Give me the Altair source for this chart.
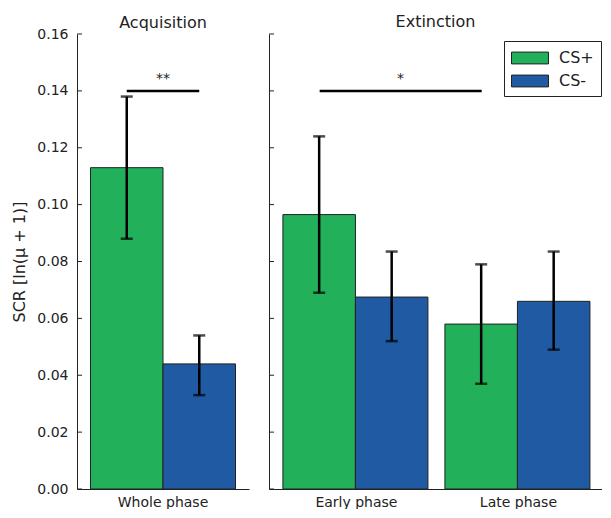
import altair as alt
import pandas as pd

# ---- data ----
conditions = ["CS+", "CS-"]
acq_phases = ["Whole phase"]
ext_phases = ["Early phase", "Late phase"]

acq_mean = [0.113, 0.044]
acq_lo = [0.088, 0.033]
acq_hi = [0.138, 0.054]

ext_mean = [0.0965, 0.0675, 0.058, 0.066]
ext_lo = [0.069, 0.052, 0.037, 0.049]
ext_hi = [0.124, 0.0835, 0.079, 0.0835]

y_ticks = [0.0, 0.02, 0.04, 0.06, 0.08, 0.10, 0.12, 0.14, 0.16]
sig_level = 0.14
acq_sig_label = "**"
ext_sig_label = "*"

GREEN = "#22b05a"
BLUE = "#1f5aa2"
FONT = "DejaVu Sans"

acq_df = pd.DataFrame({
    "phase": [acq_phases[0]] * 2,
    "cond": conditions,
    "mean": acq_mean, "lo": acq_lo, "hi": acq_hi,
})
ext_df = pd.DataFrame({
    "phase": [ext_phases[0]] * 2 + [ext_phases[1]] * 2,
    "cond": conditions * 2,
    "mean": ext_mean, "lo": ext_lo, "hi": ext_hi,
})
tick_df = pd.DataFrame({"v": y_ticks})

H = 455
yscale = alt.Scale(domain=[0, 0.16], nice=False, zero=True)
color_scale = alt.Scale(domain=conditions, range=[GREEN, BLUE])
off_scale = alt.Scale(paddingInner=0, paddingOuter=0)


def panel(df, phases, width, pad_inner, pad_outer, align, title, title_offset,
          show_labels, sig_df, sig_text_pos, legend):
    xscale = alt.Scale(domain=phases, paddingInner=pad_inner, paddingOuter=pad_outer, align=align)
    x = alt.X("phase:N", scale=xscale, sort=phases,
              axis=alt.Axis(title=None, labelAngle=0, ticks=False, domain=True,
                            domainColor="#222", labelFontSize=14, labelFont=FONT,
                            labelColor="#222", labelPadding=6))
    if show_labels:
        yaxis = alt.Axis(values=y_ticks, format=".2f", ticks=False, grid=False,
                         domainColor="#222", labelFontSize=14, labelFont=FONT,
                         labelColor="#222", labelPadding=9,
                         title="SCR [ln(\u03bc + 1)]", titleFontSize=16,
                         titleFont=FONT, titleFontWeight="normal", titleColor="#222",
                         titlePadding=9)
    else:
        yaxis = alt.Axis(values=y_ticks, labels=False, ticks=False, grid=False,
                         domainColor="#222", title=None)
    y = alt.Y("mean:Q", scale=yscale, axis=yaxis)
    xo = alt.XOffset("cond:N", scale=off_scale, sort=conditions)

    base = alt.Chart(df)
    bars = base.mark_bar(stroke="#222", strokeWidth=1).encode(
        x=x, xOffset=xo, y=y,
        color=alt.Color("cond:N", scale=color_scale, legend=legend),
    )
    err = base.mark_rule(color="black", strokeWidth=2.5).encode(
        x=alt.X("phase:N", scale=xscale, sort=phases), xOffset=xo,
        y=alt.Y("lo:Q", scale=yscale), y2="hi:Q",
    )
    cap_lo = base.mark_tick(color="black", size=12, thickness=2.5).encode(
        x=alt.X("phase:N", scale=xscale, sort=phases), xOffset=xo,
        y=alt.Y("lo:Q", scale=yscale),
    )
    cap_hi = base.mark_tick(color="black", size=12, thickness=2.5).encode(
        x=alt.X("phase:N", scale=xscale, sort=phases), xOffset=xo,
        y=alt.Y("hi:Q", scale=yscale),
    )
    inticks = alt.Chart(tick_df).mark_rule(color="#222", strokeWidth=1).encode(
        y=alt.Y("v:Q", scale=yscale), x=alt.value(0), x2=alt.value(5),
    )
    sig_line = alt.Chart(sig_df).mark_rule(color="black", strokeWidth=2.5).encode(
        x=alt.X("a:N", scale=xscale, sort=phases, bandPosition=sig_df["pa"][0]),
        x2=alt.X2("b:N", bandPosition=sig_df["pb"][0]),
        y=alt.Y("y:Q", scale=yscale),
    )
    sig_txt = alt.Chart(sig_df).mark_text(fontSize=14, font=FONT, color="#222",
                                          baseline="alphabetic", dy=-8).encode(
        x=alt.X("a:N", scale=xscale, sort=phases, bandPosition=sig_text_pos),
        y=alt.Y("y:Q", scale=yscale),
        text="t:N",
    )
    return alt.layer(bars, err, cap_lo, cap_hi, inticks, sig_line, sig_txt).properties(
        width=width, height=H,
        title=alt.TitleParams(title, fontSize=16, font=FONT, fontWeight="normal",
                              color="#222", offset=title_offset, frame="group"),
    )


acq_sig = pd.DataFrame({"a": [acq_phases[0]], "b": [acq_phases[0]], "pa": [0.25], "pb": [0.75],
                        "y": [sig_level], "t": [acq_sig_label]})
ext_sig = pd.DataFrame({"a": [ext_phases[0]], "b": [ext_phases[1]], "pa": [0.25], "pb": [0.25],
                        "y": [sig_level], "t": [ext_sig_label]})

RW = 333
left = panel(acq_df, acq_phases, 172, 0.0, 0.093, 0.5, "Acquisition", -3.5, True,
             acq_sig, 0.5, None)
legend = alt.Legend(title=None, orient="none", legendX=RW - 98, legendY=7,
                    strokeColor="#222", fillColor="white", padding=7, cornerRadius=0,
                    symbolType="M-2,-0.64L2,-0.64L2,0.64L-2,0.64Z", symbolSize=342,
                    symbolOffset=9, symbolStrokeColor="#222", symbolStrokeWidth=1,
                    symbolOpacity=1, labelFontSize=16, labelFont=FONT, labelColor="#222",
                    labelOffset=19, rowPadding=5)
right = panel(ext_df, ext_phases, RW, 0.0926, 0.074, 0.58, "Extinction", 3.5, False,
              ext_sig, 0.8, legend)

chart = alt.hconcat(left, right, spacing=19).resolve_scale(
    color="independent"
).resolve_legend(color="independent").configure_view(stroke=None).properties(
    padding={"left": 3, "top": 6, "right": 0, "bottom": 0}
)

chart.save("out.html", embed_options={"renderer": "svg", "actions": False})
